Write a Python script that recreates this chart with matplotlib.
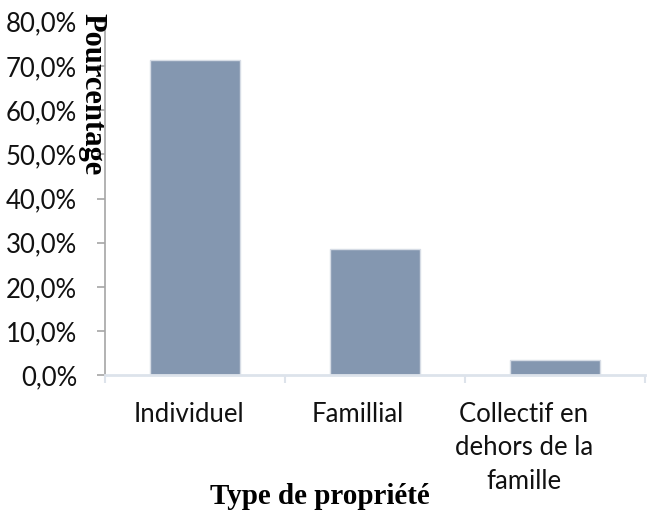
import matplotlib
matplotlib.use("Agg")
import matplotlib.pyplot as plt
import matplotlib.transforms as mtransforms
from matplotlib.ticker import FuncFormatter, MultipleLocator

categories = ["Individuel", "Famillial", "Collectif en\ndehors de la\nfamille"]
values = [71.4, 28.6, 3.5]
y_label = "Pourcentage"
x_label = "Type de propriété"

W, H = 657, 519
fig = plt.figure(figsize=(W / 100, H / 100), dpi=100)
ax = fig.add_axes([105 / W, 1 - 375.3 / H, 540 / W, 353.6 / H])

x = range(len(categories))
ax.bar(x, values, width=0.5, color="#8497B0", edgecolor="#D6DCE5", linewidth=1.0, zorder=2)

ax.set_xlim(-0.5, len(categories) - 0.5)
ax.set_ylim(0, 80)
ax.yaxis.set_major_locator(MultipleLocator(10))
ax.yaxis.set_major_formatter(FuncFormatter(lambda v, _: f"{v:.1f}%".replace(".", ",")))

tick_font = "Lato"
ax.tick_params(axis="y", direction="out", length=6, width=1.2, color="#A6A6A6",
               labelsize=18.5, pad=14, labelcolor="#111111")
for lab in ax.get_yticklabels():
    lab.set_fontfamily(tick_font)

# category boundary ticks on the x axis
ax.set_xticks([-0.5, 0.5, 1.5, 2.5])
ax.set_xticklabels([])
ax.tick_params(axis="x", direction="out", length=6, width=1.5, color="#DDE3EB")

for side in ("top", "right"):
    ax.spines[side].set_visible(False)
ax.spines["left"].set_color("#A6A6A6")
ax.spines["left"].set_linewidth(1.2)
ax.spines["bottom"].set_color("#DDE3EB")
ax.spines["bottom"].set_linewidth(2)

# category labels under the bars
shifts = [-6, -17, -31]
for i, (cat, dx) in enumerate(zip(categories, shifts)):
    offset = mtransforms.ScaledTranslation(dx / 100, 0, fig.dpi_scale_trans)
    ax.text(i, -0.075, cat, transform=ax.get_xaxis_transform() + offset,
            ha="center", va="top", fontsize=18.5, fontfamily=tick_font,
            color="#111111", linespacing=1.42)

fig.text(92 / W, 1 - 94 / H, y_label, rotation=270, ha="center", va="center",
         fontsize=22, fontweight="bold", fontfamily="Liberation Serif", color="black")
fig.text(320 / W, 1 - 496 / H, x_label, ha="center", va="center",
         fontsize=21, fontweight="bold", fontfamily="Liberation Serif", color="black")

fig.savefig("out.png", dpi=100)
